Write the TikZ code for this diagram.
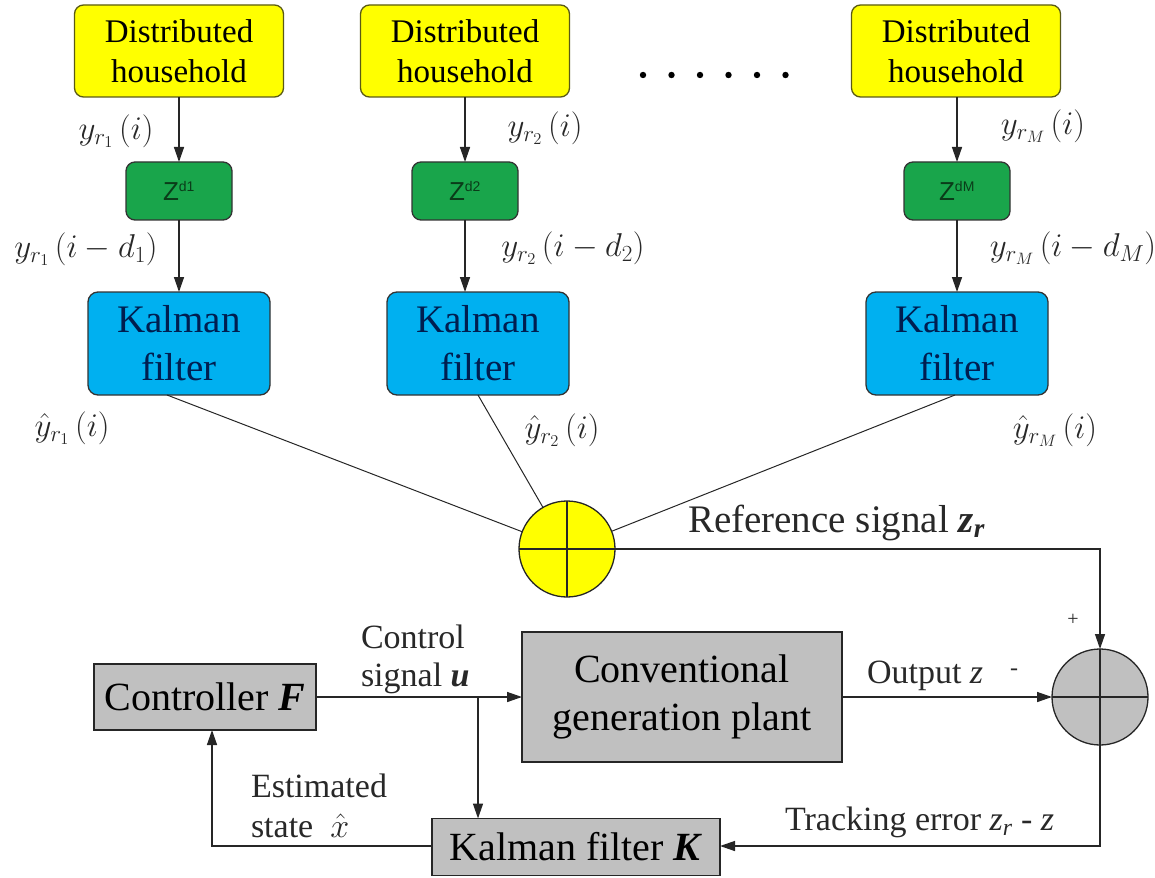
\RequirePackage{fix-cm}
\documentclass[tikz,border=0pt]{standalone}
\usepackage{fontspec}
\setmainfont{Liberation Serif}
\newfontfamily\zfont{Liberation Sans}
\usetikzlibrary{arrows.meta}
\definecolor{hhfill}{RGB}{255,255,0}
\definecolor{hhdraw}{RGB}{90,90,20}
\definecolor{zfill}{RGB}{25,165,75}
\definecolor{ztext}{RGB}{10,60,25}
\definecolor{kfill}{RGB}{0,176,240}
\definecolor{ktext}{RGB}{0,30,80}
\definecolor{gfill}{RGB}{192,192,192}
\definecolor{lbl}{RGB}{40,40,40}
\tikzset{
  every node/.style={inner sep=0pt, outer sep=0pt},
  hhbox/.style={draw=hhdraw, line width=1.3pt, fill=hhfill, rounded corners=9pt,
    minimum width=209pt, minimum height=92pt, align=center,
    font=\fontsize{33}{40}\selectfont},
  zbox/.style={draw=black!80, line width=1.3pt, fill=zfill, rounded corners=9pt,
    minimum width=106pt, minimum height=58pt, text=ztext,
    font=\zfont\fontsize{26}{30}\selectfont},
  kfbox/.style={draw=black!80, line width=1.3pt, fill=kfill, rounded corners=10pt,
    minimum width=182pt, minimum height=103pt, align=center, text=ktext,
    font=\fontsize{39}{48}\selectfont},
  gbox/.style={draw=black!85, line width=1.4pt, fill=gfill, align=center,
    font=\fontsize{40}{48}\selectfont},
  sumnode/.style={circle, draw=black!85, line width=1.3pt, minimum size=96pt},
  lab/.style={text=lbl, font=\fontsize{34}{38}\selectfont},
  mlab/.style={text=lbl, font=\fontsize{33}{38}\selectfont},
  wire/.style={line width=1.4pt, draw=black!85},
  arr/.style={wire, -{Triangle[length=15pt,width=10pt]}},
}
\newcommand{\zsup}[1]{\textsuperscript{\fontsize{14}{14}\selectfont #1}}
\begin{document}
\begin{tikzpicture}[x=1pt, y=-1pt]
\useasboundingbox (0,0) rectangle (1155,877);

% distributed households
\node[hhbox] (h1) at (179,51) {Distributed\\household};
\node[hhbox] (h2) at (465,51) {Distributed\\household};
\node[hhbox] (h3) at (956,51) {Distributed\\household};

% ellipsis between the second and the last branch
\foreach \i in {0,...,5}
  \fill (643+\i*28.5,75) circle (3.2pt);

% delay blocks
\node[zbox] (z1) at (179,191) {Z\zsup{d1}};
\node[zbox] (z2) at (465,191) {Z\zsup{d2}};
\node[zbox] (z3) at (957,191) {Z\zsup{dM}};

% local Kalman filters
\node[kfbox] (k1) at (179,343.5) {Kalman\\filter};
\node[kfbox] (k2) at (478,343.5) {Kalman\\filter};
\node[kfbox] (k3) at (957,343.5) {Kalman\\filter};

% branch arrows
\draw[arr] (h1) -- (z1);
\draw[arr] (z1) -- (k1);
\draw[arr] (h2) -- (z2);
\draw[arr] (z2) -- (k2.north -| z2);
\draw[arr] (h3.south -| z3) -- (z3);
\draw[arr] (z3) -- (k3);

% branch signal labels
\node[mlab] (l1a) at (116,131) {$y_{r_1}\,(i)$};
\node[mlab] (l1b) at (86,249) {$y_{r_1}\,(i-d_1)$};
\node[mlab] (l2a) at (545,128) {$y_{r_2}\,(i)$};
\node[mlab] (l2b) at (573,248) {$y_{r_2}\,(i-d_2)$};
\node[mlab] (l3a) at (1043,126) {$y_{r_M}\,(i)$};
\node[mlab] (l3b) at (1073,248) {$y_{r_M}\,(i-d_M)$};
\node[mlab] (e1) at (72,428) {$\hat{y}_{r_1}\,(i)$};
\node[mlab] (e2) at (562,430) {$\hat{y}_{r_2}\,(i)$};
\node[mlab] (e3) at (1055,430) {$\hat{y}_{r_M}\,(i)$};

% aggregation of the estimates
\node[sumnode, fill=hhfill] (s1) at (567,549) {};
\draw[wire] (s1.north) -- (s1.south) (s1.west) -- (s1.east);
\coordinate (k1o) at (167,395);
\coordinate (k2o) at (478,395);
\coordinate (k3o) at (955,395);
\draw[wire, line width=1pt] (k1o) -- (s1);
\draw[wire, line width=1pt] (k2o) -- (s1);
\draw[wire, line width=1pt] (k3o) -- (s1);

% lower control loop
\node[gbox, minimum width=222pt, minimum height=66pt] (ctrl) at (205,697) {Controller \textbf{\textit{F}}};
\node[gbox, minimum width=320pt, minimum height=130pt] (plant) at (682,697) {Conventional\\generation plant};
\node[gbox, minimum width=288pt, minimum height=57pt] (kk) at (576,847) {Kalman filter \textbf{\textit{K}}};
\node[sumnode, fill=gfill] (s2) at (1100,697) {};
\draw[wire] (s2.north) -- (s2.south) (s2.west) -- (s2.east);

\coordinate (br) at (478,697);
\coordinate (zr) at (1100,549);
\coordinate (te) at (1100,846);
\coordinate (fb) at (212,846);

\draw[arr] (ctrl) -- (plant);
\draw[arr] (br) -- (kk.north -| br);
\draw[arr] (s1) -- (zr) -- (s2);
\draw[arr] (plant) -- (s2);
\draw[arr] (s2.south) -- (te) -- (kk.east |- te);
\draw[arr] (kk.west |- fb) -- (fb) -- (ctrl.south -| fb);

% loop labels
\node[lab, anchor=base west, font=\fontsize{39}{44}\selectfont] (tzr) at (688,532) {Reference signal \textbf{\textit{z\textsubscript{r}}}};
\node[lab, align=left, anchor=west] (tcs) at (361,659) {Control\\signal \textbf{\textit{u}}};
\node[lab, anchor=base west] (tout) at (867,683) {Output \textit{z}};
\node[lab, font=\fontsize{24}{24}\selectfont] (tminus) at (1014,672) {-};
\node[lab, font=\fontsize{20}{24}\selectfont] (tplus) at (1073,620) {+};
\node[lab, align=left, anchor=west, font=\fontsize{34}{40}\selectfont] (tes) at (251,806) {Estimated\\state \ $\hat{x}$};
\node[lab, anchor=base west] (tte) at (785,830) {Tracking error \textit{z\textsubscript{r}} - \textit{z}};
\end{tikzpicture}
\end{document}
